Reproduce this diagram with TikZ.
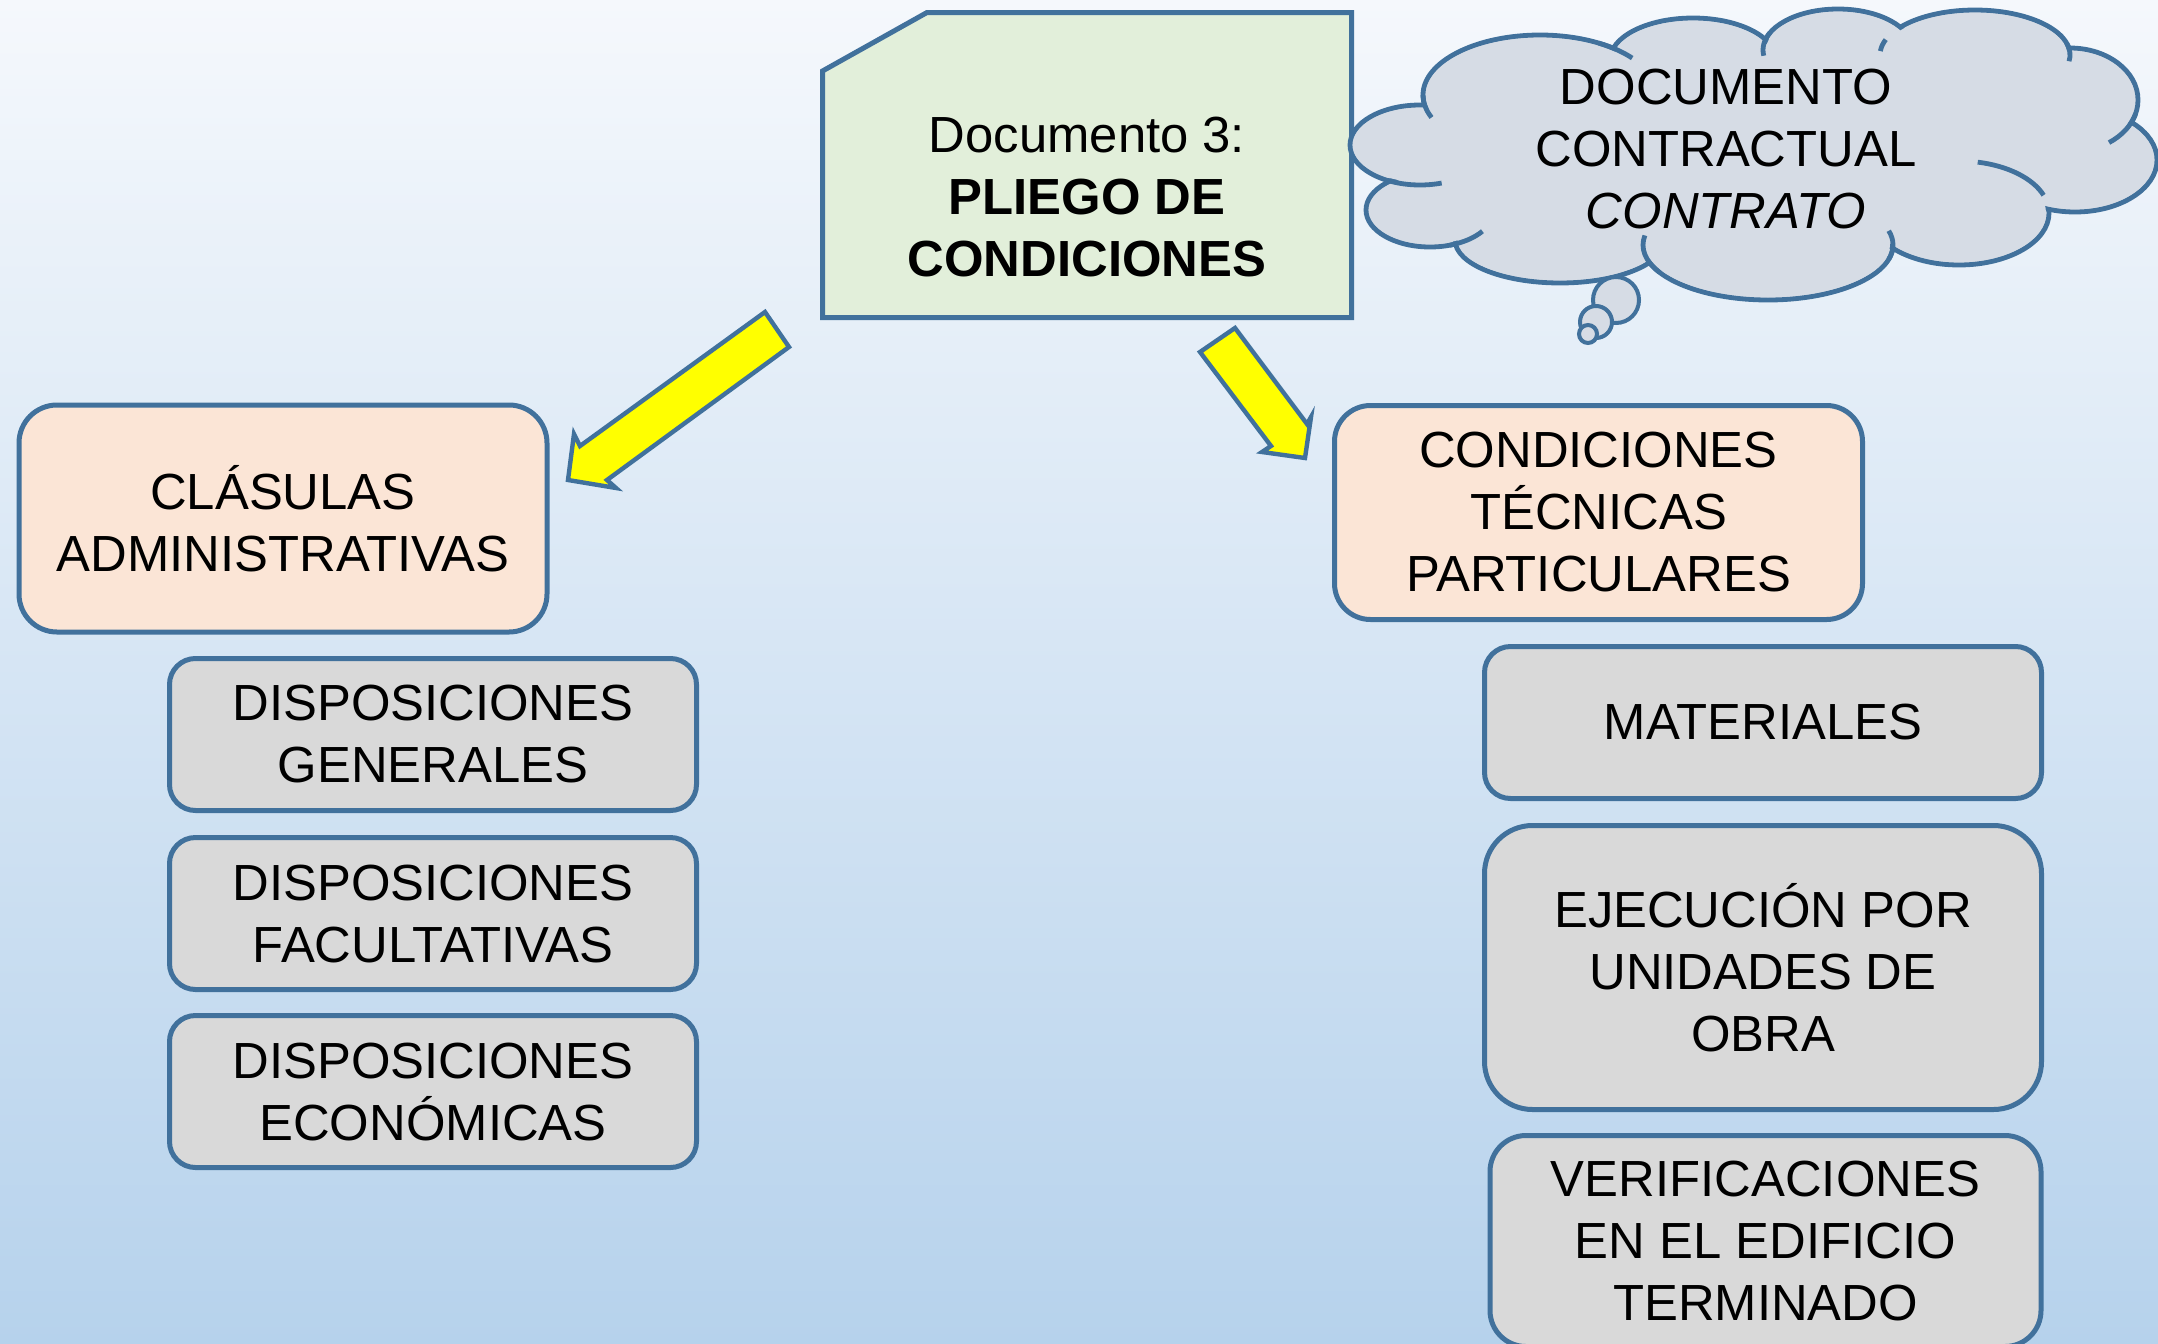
\documentclass[tikz,border=0pt]{standalone}
\usepackage{fontspec}
\setmainfont{Liberation Sans}
\newcommand\diafont{\fontsize{25.4pt}{31pt}\selectfont}
\definecolor{bordercol}{RGB}{65,113,156}
\definecolor{peach}{RGB}{251,229,214}
\definecolor{greyfill}{RGB}{217,217,217}
\definecolor{docgreen}{RGB}{226,239,218}
\definecolor{cloudfill}{RGB}{214,220,229}
\definecolor{bgtop}{RGB}{245,248,252}
\definecolor{bgbottom}{RGB}{182,210,236}
\definecolor{arrowyellow}{RGB}{255,255,0}
\begin{document}
\begin{tikzpicture}[x=0.5pt,y=-0.5pt,
  bline/.style={draw=bordercol, line width=2.5pt},
  box/.style={bline, rounded corners=#1pt, align=center, inner sep=0pt, text=black, font=\diafont},
  txt/.style={align=center, inner sep=0pt, text=black, font=\diafont},
  blockarrow/.style={fill=arrowyellow, draw=bordercol, line width=2.2pt, line join=miter},
  cloudline/.style={draw=bordercol, line width=2.4pt}]
\useasboundingbox (0,0) rectangle (2158,1344);
\shade[top color=bgtop, bottom color=bgbottom] (0,0) rectangle (2158,1344);

% document shape
\draw[bline, fill=docgreen, line join=miter] (822.5,71) -- (927,12.5) -- (1351.5,12.5) -- (1351.5,317.5) -- (822.5,317.5) -- cycle;
\node[txt] (doc) at (1087,197) {Documento 3:\\\textbf{PLIEGO DE}\\\textbf{CONDICIONES}};

% cloud: lobes drawn, then interior filled over
\foreach \cx/\cy/\rx/\ry in {1420/145/70/40, 1430/210/64/37, 1560/240/105/43, 1768/245/125/55, 1959/213/90/52, 2075/160/82/52, 2070/100/68/52, 1975/55/95/45, 1838/50/75/41, 1693/60/83/42, 1540/95/117/60}
  \filldraw[fill=cloudfill, cloudline] (\cx,\cy) ellipse [x radius=\rx, y radius=\ry];
\foreach \cx/\cy/\rx/\ry in {1420/145/70/40, 1430/210/64/37, 1560/240/105/43, 1768/245/125/55, 1959/213/90/52, 2075/160/82/52, 2070/100/68/52, 1975/55/95/45, 1838/50/75/41, 1693/60/83/42, 1540/95/117/60}
  \fill[cloudfill] (\cx,\cy) ellipse [x radius=\rx-3, y radius=\ry-3];
\fill[cloudfill] (1420,145) -- (1430,210) -- (1560,240) -- (1768,245) -- (1959,213) -- (2075,160) -- (2070,100) -- (1975,55) -- (1838,50) -- (1693,60) -- (1540,95) -- cycle;
% inner arcs of the cloud
\draw[cloudline] (1420,145) ++(118:70 and 40) arc[start angle=118, end angle=72, x radius=70, y radius=40];
\draw[cloudline] (1540,95) ++(180:117 and 60) arc[start angle=180, end angle=158, x radius=117, y radius=60];
\draw[cloudline] (1540,95) ++(300:117 and 60) arc[start angle=300, end angle=322, x radius=117, y radius=60];
\draw[cloudline] (1838,50) ++(205:75 and 41) arc[start angle=205, end angle=172, x radius=75, y radius=41];
\draw[cloudline] (1975,55) ++(200:95 and 45) arc[start angle=200, end angle=185, x radius=95, y radius=45];
\draw[cloudline] (1975,55) ++(345:95 and 45) arc[start angle=345, end angle=368, x radius=95, y radius=45];
\draw[cloudline] (2070,100) ++(55:68 and 52) arc[start angle=55, end angle=15, x radius=68, y radius=52];
\draw[cloudline] (1959,213) ++(282:90 and 52) arc[start angle=282, end angle=340, x radius=90, y radius=52];
\draw[cloudline] (1768,245) ++(345:125 and 55) arc[start angle=345, end angle=375, x radius=125, y radius=55];
\draw[cloudline] (1768,245) ++(190:125 and 55) arc[start angle=190, end angle=150, x radius=125, y radius=55];
\draw[cloudline] (1430,210) ++(72:64 and 37) arc[start angle=72, end angle=35, x radius=64, y radius=37];
% thought bubbles
\filldraw[fill=cloudfill, draw=bordercol, line width=2pt] (1616,300) circle [radius=23];
\filldraw[fill=cloudfill, draw=bordercol, line width=2pt] (1596,322) circle [radius=16];
\filldraw[fill=cloudfill, draw=bordercol, line width=2pt] (1588,334) circle [radius=9];
\node[txt] (cloud) at (1726,149) {DOCUMENTO\\CONTRACTUAL\\\textit{CONTRATO}};

% block arrows
\draw[blockarrow] (765,312) -- (789,347) -- (607,480) -- (616,488) -- (568,480) -- (574,434) -- (580,446) -- cycle;
\draw[blockarrow] (1200,352) -- (1235,328) -- (1307,424) -- (1311,417) -- (1305,458) -- (1262,452) -- (1271,446) -- cycle;

% left column
\node[box=19, fill=peach, minimum width=264pt, minimum height=113.5pt] (clas) at (283,518.5) {CLÁSULAS\\ADMINISTRATIVAS};
\node[box=13, fill=greyfill, minimum width=263.5pt, minimum height=76pt] (dgen) at (433,734.5) {DISPOSICIONES\\GENERALES};
\node[box=13, fill=greyfill, minimum width=263.5pt, minimum height=76pt] (dfac) at (433,913.5) {DISPOSICIONES\\FACULTATIVAS};
\node[box=13, fill=greyfill, minimum width=263.5pt, minimum height=76pt] (deco) at (433,1091.5) {DISPOSICIONES\\ECONÓMICAS};

% right column
\node[box=18, fill=peach, minimum width=264pt, minimum height=107pt] (ctp) at (1598.5,512.5) {CONDICIONES\\TÉCNICAS\\PARTICULARES};
\node[box=13, fill=greyfill, minimum width=278.5pt, minimum height=76pt] (mat) at (1763,722.5) {MATERIALES};
\node[box=24, fill=greyfill, minimum width=278.5pt, minimum height=142pt] (eje) at (1763,967.5) {EJECUCIÓN POR\\UNIDADES DE\\OBRA};
\node[box=18, fill=greyfill, minimum width=275.5pt, minimum height=105.5pt] (ver) at (1765.5,1241) {VERIFICACIONES\\EN EL EDIFICIO\\TERMINADO};
\end{tikzpicture}
\end{document}
